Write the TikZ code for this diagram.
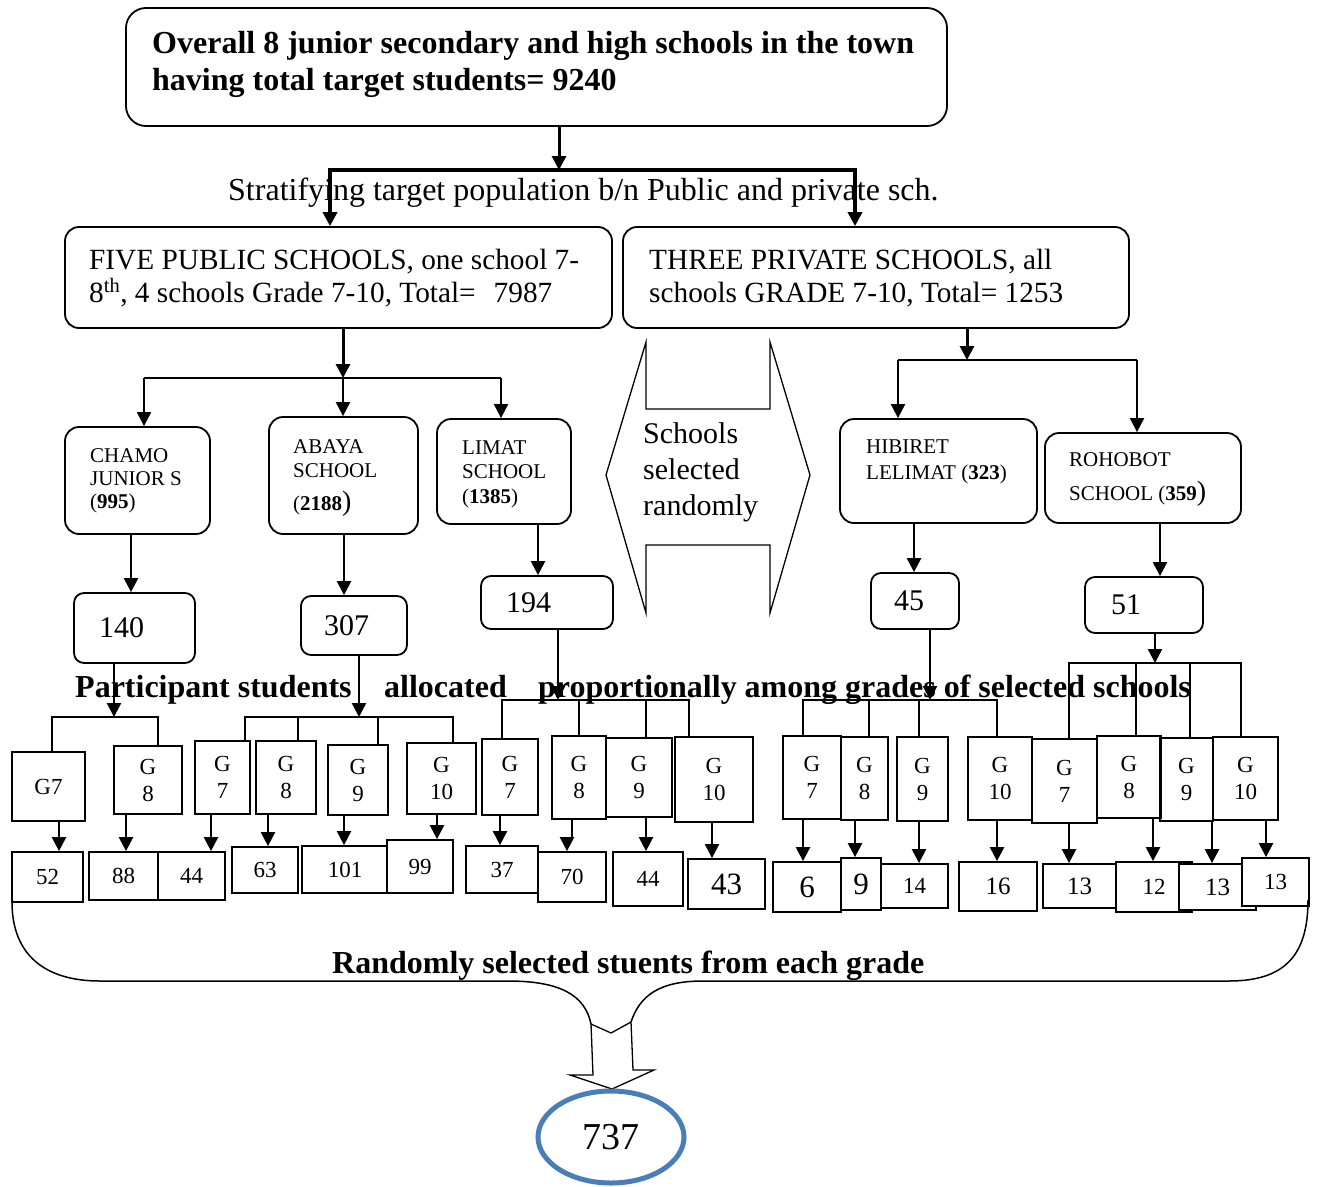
\documentclass[tikz,border=0pt]{standalone}
\usepackage{fontspec}
\setmainfont{Liberation Serif}
\usetikzlibrary{arrows.meta,shapes.geometric}
\definecolor{ringblue}{HTML}{4A7EBB}
\newcommand\fs[2]{\fontsize{#1}{#2}\selectfont}
\newcommand\bx[7][]{%
 \pgfmathsetmacro\bxw{#5-#3}%
 \pgfmathsetmacro\bxh{#6-#4}%
 \pgfmathsetmacro\bxcx{(#3+#5)/2}%
 \pgfmathsetmacro\bxcy{(#4+#6)/2}%
 \node[#1, minimum width=\bxw pt, minimum height=\bxh pt] (#2) at (\bxcx,\bxcy) {#7};}
\begin{document}
\begin{tikzpicture}[x=1pt,y=-1pt,
 rbox/.style={draw, rounded corners=14pt, line width=1.8pt, inner sep=0pt},
 gbox/.style={draw, line width=1.8pt, inner sep=0pt, align=center, font=\fs{23}{27}},
 nbox/.style={draw, fill=white, line width=1.8pt, inner sep=0pt, font=\fs{23}{25}},
 bignum/.style={nbox, font=\fs{31}{33}},
 midnum/.style={nbox, font=\fs{25}{27}},
 arr/.style={line width=2.4pt, -{Triangle[length=14pt,width=14pt]}},
 br/.style={line width=1.6pt},
 tx/.style={inner sep=0pt, anchor=base west},
 big/.style={tx, font=\fs{32}{37}\bfseries},
 mid/.style={tx, font=\fs{29.3}{34}},
 sml/.style={tx, font=\fs{21}{24}},
 num/.style={tx, font=\fs{30}{32}},
 numbox/.style={rbox, rounded corners=10pt, font=\fs{30}{32}, align=left}]
\useasboundingbox (0,0) rectangle (1319,1186);

% ---------- texts ----------
\node[big] (tt1) at (152,53) {Overall 8 junior secondary and high schools in the town};
\node[big] (tt2) at (152,90) {having total target students= 9240};
\node[tx, font=\fs{32}{34}] (strat) at (228,200) {Stratifying target population b/n Public and private sch.};
\node[mid] (pb1) at (89,269) {FIVE PUBLIC SCHOOLS, one school 7-};
\node[mid] (pb2) at (89,302) {8\textsuperscript{th}, 4 schools Grade 7-10, Total=\hspace{18pt}7987};
\node[mid] (pv1) at (649,269) {THREE PRIVATE SCHOOLS, all};
\node[mid] (pv2) at (649,302) {schools GRADE 7-10, Total= 1253};

\node[sml] (c1) at (90,462) {CHAMO};
\node[sml] (c2) at (90,485) {JUNIOR S};
\node[sml] (c3) at (90,508) {(\textbf{995})};
\node[sml] (a1) at (293,453) {ABAYA};
\node[sml] (a2) at (293,477) {SCHOOL};
\node[sml] (a3) at (293,510) {(\textbf{2188}{\fs{28}{30})}};
\node[sml] (li1) at (462,454) {LIMAT};
\node[sml] (li2) at (462,478) {SCHOOL};
\node[sml] (li3) at (462,503) {(\textbf{1385})};
\node[sml] (h1) at (866,453) {HIBIRET};
\node[sml] (h2) at (866,479) {LELIMAT (\textbf{323})};
\node[sml] (r1) at (1069,466) {ROHOBOT};
\node[sml] (r2) at (1069,500) {SCHOOL (\textbf{359}{\fs{28}{30})}};

\node[num] (s1) at (643,443) {Schools};
\node[num] (s2) at (643,479) {selected};
\node[num] (s3) at (643,515) {randomly};

\node[big] (p1) at (75,697) {Participant students};
\node[big] (p2) at (384,697) {allocated};
\node[big] (p3) at (538,697) {proportionally among grades of selected schools};
\node[big] (rnd) at (332,973) {Randomly selected stuents from each grade};

% ---------- boxes ----------
\bx[rbox, rounded corners=20pt]{top}{126}{8}{947}{126}{}
\bx[rbox]{pub}{65}{227}{612}{328}{}
\bx[rbox]{priv}{623}{227}{1129}{328}{}
\bx[rbox]{chamo}{65}{427}{210}{534}{}
\bx[rbox]{abaya}{269}{417}{418}{534}{}
\bx[rbox]{limat}{437}{419}{571}{524}{}
\bx[rbox]{hib}{840}{419}{1037}{523}{}
\bx[rbox]{roh}{1045}{433}{1241}{523}{}
\bx[numbox, text width=71pt]{n140}{74}{593}{195}{663}{140}
\bx[numbox, text width=60pt]{n307}{301}{596}{407}{655}{307}
\bx[numbox, text width=82pt]{n194}{481}{576}{613}{629}{194}
\bx[numbox, text width=42pt]{n45}{871}{573}{959}{629}{45}
\bx[numbox, text width=66pt]{n51}{1085}{577}{1203}{633}{51}

% grade boxes
\bx[gbox]{g11}{12}{752}{85}{821}{G7}
\bx[gbox]{g12}{114}{746}{182}{814}{G\\8}
\bx[gbox]{g21}{195}{741}{250}{814}{G\\7}
\bx[gbox]{g22}{256}{741}{316}{814}{G\\8}
\bx[gbox]{g23}{328}{745}{388}{815}{G\\9}
\bx[gbox]{g24}{407}{743}{476}{814}{G\\10}
\bx[gbox]{g31}{482}{739}{538}{815}{G\\7}
\bx[gbox]{g32}{552}{736}{606}{819}{G\\8}
\bx[gbox]{g33}{606}{738}{672}{817}{G\\9}
\bx[gbox]{g34}{675}{737}{753}{822}{G\\10}
\bx[gbox]{g41}{783}{736}{841}{819}{G\\7}
\bx[gbox]{g42}{841}{737}{888}{820}{G\\8}
\bx[gbox]{g43}{897}{737}{948}{821}{G\\9}
\bx[gbox]{g44}{968}{737}{1032}{820}{G\\10}
\bx[gbox]{g51}{1032}{739}{1097}{823}{G\\7}
\bx[gbox]{g52}{1097}{736}{1161}{818}{G\\8}
\bx[gbox]{g53}{1160}{738}{1213}{821}{G\\9}
\bx[gbox]{g54}{1213}{737}{1278}{820}{G\\10}

% number boxes
\bx[nbox]{m52}{12}{852}{83}{902}{52}
\bx[nbox]{m88}{89}{852}{158}{900}{88}
\bx[nbox]{m44a}{158}{852}{225}{900}{44}
\bx[nbox]{m63}{232}{847}{298}{893}{63}
\bx[nbox]{m101}{302}{846}{388}{893}{101}
\bx[nbox]{m99}{387}{840}{453}{893}{99}
\bx[nbox]{m37}{466}{846}{538}{893}{37}
\bx[nbox]{m70}{538}{852}{606}{902}{70}
\bx[nbox]{m44b}{613}{852}{683}{906}{44}
\bx[bignum]{m43}{688}{859}{765}{909}{43}
\bx[bignum]{m6}{773}{862}{841}{912}{6}
\bx[bignum]{m9}{841}{858}{881}{910}{9}
\bx[nbox]{m14}{881}{864}{948}{908}{14}
\bx[midnum]{m16}{959}{862}{1037}{911}{16}
\bx[midnum]{m13a}{1043}{864}{1116}{908}{13}
\bx[nbox]{m12}{1116}{862}{1192}{912}{12}
\bx[midnum]{m13b}{1179}{864}{1256}{910}{13}
\bx[nbox]{m13c}{1242}{858}{1309}{906}{13}

% ---------- top connectors ----------
\coordinate (js) at (559,170);
\draw[arr, line width=3pt] (top.south -| js) -- (js);
\draw[line width=4.5pt] (js -| 328,0) -- (js -| 857,0);
\draw[arr, line width=3.4pt] (js -| 330,0) -- (pub.north -| 330,0);
\draw[arr, line width=3.4pt] (js -| 855,0) -- (priv.north -| 855,0);

\coordinate (jp) at (343,378);
\draw[arr, line width=3pt] (pub.south -| jp) -- (jp);
\draw[line width=2pt] (jp -| 144,0) -- (jp -| 501,0);
\draw[arr, line width=2pt] (jp -| 144,0) -- (chamo.north -| 144,0);
\draw[arr, line width=2pt] (jp) -- (abaya.north -| jp);
\draw[arr, line width=2pt] (jp -| 501,0) -- (limat.north -| 501,0);

\coordinate (jv) at (967,360);
\draw[arr, line width=3pt] (priv.south -| jv) -- (jv);
\draw[line width=2pt] (jv -| 898,0) -- (jv -| 1137,0);
\draw[arr, line width=2pt] (jv -| 898,0) -- (hib.north -| 898,0);
\draw[arr, line width=2pt] (jv -| 1137,0) -- (roh.north -| 1137,0);

\draw[arr] (chamo.south -| 131,0) -- (n140.north -| 131,0);
\draw[arr] (abaya.south -| 344,0) -- (n307.north -| 344,0);
\draw[arr] (limat.south -| 538,0) -- (n194.north -| 538,0);
\draw[arr] (hib.south -| 914,0) -- (n45.north -| 914,0);
\draw[arr] (roh.south -| 1160,0) -- (n51.north -| 1160,0);

% schools selected randomly shape
\draw[line width=1.3pt, line join=miter] (606,475) -- (646,342) -- (646,409) -- (770,409) -- (770,342) -- (810,475)
  -- (770,613) -- (770,545) -- (646,545) -- (646,613) -- cycle;

% ---------- grade brackets ----------
\coordinate (j1) at (114,717);
\coordinate (j2) at (359,717);
\coordinate (j3) at (558,700);
\coordinate (j4) at (930,700);
\coordinate (j5) at (1155,663);
\draw[arr] (n140.south -| j1) -- (j1);
\draw[arr] (n307.south -| j2) -- (j2);
\draw[arr] (n194.south -| j3) -- (j3);
\draw[arr] (n45.south -| j4) -- (j4);
\draw[arr] (n51.south -| j5) -- (j5);

\draw[br] (g11.north -| 52,0) -- (j1 -| 52,0) -- (j1 -| 158,0) -- (g12.north -| 158,0);

\draw[br] (g21.north -| 245,0) -- (j2 -| 245,0) -- (j2 -| 453,0) -- (g24.north -| 453,0);
\draw[br] (g22.north -| 298,0) -- (j2 -| 298,0);
\draw[br] (g23.north -| 378,0) -- (j2 -| 378,0);

\draw[br] (g31.north -| 502,0) -- (j3 -| 502,0) -- (j3 -| 689,0) -- (g34.north -| 689,0);
\draw[br] (g32.north -| 579,0) -- (j3 -| 579,0);
\draw[br] (g33.north -| 646,0) -- (j3 -| 646,0);

\draw[br] (g41.north -| 803,0) -- (j4 -| 803,0) -- (j4 -| 997,0) -- (g44.north -| 997,0);
\draw[br] (g42.north -| 869,0) -- (j4 -| 869,0);
\draw[br] (g43.north -| 919,0) -- (j4 -| 919,0);

\draw[br] (g51.north -| 1069,0) -- (j5 -| 1069,0) -- (j5 -| 1241,0) -- (g54.north -| 1241,0);
\draw[br] (g52.north -| 1136,0) -- (j5 -| 1136,0);
\draw[br] (g53.north -| 1190,0) -- (j5 -| 1190,0);

% ---------- grade to number arrows ----------
\draw[arr] (g11.south -| 59,0) -- (m52.north -| 59,0);
\draw[arr] (g12.south -| 126,0) -- (m88.north -| 126,0);
\draw[arr] (g21.south -| 211,0) -- (m44a.north -| 211,0);
\draw[arr] (g22.south -| 268,0) -- (m63.north -| 268,0);
\draw[arr] (g23.south -| 344,0) -- (m101.north -| 344,0);
\draw[arr] (g24.south -| 437,0) -- (m99.north -| 437,0);
\draw[arr] (g31.south -| 500,0) -- (m37.north -| 500,0);
\draw[arr] (g32.south -| 572,0) -- ++(0,19) -| (m70.north -| 567,0);
\draw[arr] (g33.south -| 646,0) -- (m44b.north -| 646,0);
\draw[arr] (g34.south -| 712,0) -- (m43.north -| 712,0);
\draw[arr] (g41.south -| 803,0) -- (m6.north -| 803,0);
\draw[arr] (g42.south -| 855,0) -- (m9.north -| 855,0);
\draw[arr] (g43.south -| 919,0) -- (m14.north -| 919,0);
\draw[arr] (g44.south -| 997,0) -- (m16.north -| 997,0);
\draw[arr] (g51.south -| 1069,0) -- (m13a.north -| 1069,0);
\draw[arr] (g52.south -| 1153,0) -- (m12.north -| 1153,0);
\draw[arr] (g53.south -| 1212,0) -- (m13b.north -| 1212,0);
\draw[arr] (g54.south -| 1266,0) -- (m13c.north -| 1266,0);

% ---------- brace and block arrow ----------
\draw[line width=1.5pt] (12,902) .. controls (12,955) and (45,981) .. (100,981) -- (508,981)
  .. controls (560,981) and (585,995) .. (591,1024);
\draw[line width=1.5pt] (631,1022) .. controls (640,995) and (660,981) .. (703,981) -- (1229,981)
  .. controls (1285,981) and (1308,955) .. (1308,900);
\draw[line width=1.3pt, line join=miter] (591,1024) -- (593,1075) -- (570,1075) -- (612,1089) -- (654,1070)
  -- (633,1070) -- (631,1022) -- (611,1033) -- cycle;

\node[ellipse, draw=ringblue, line width=5pt, minimum width=146pt, minimum height=92pt, inner sep=0pt,
  font=\fs{38}{40}] (tot) at (611,1137) {737};
\end{tikzpicture}
\end{document}
